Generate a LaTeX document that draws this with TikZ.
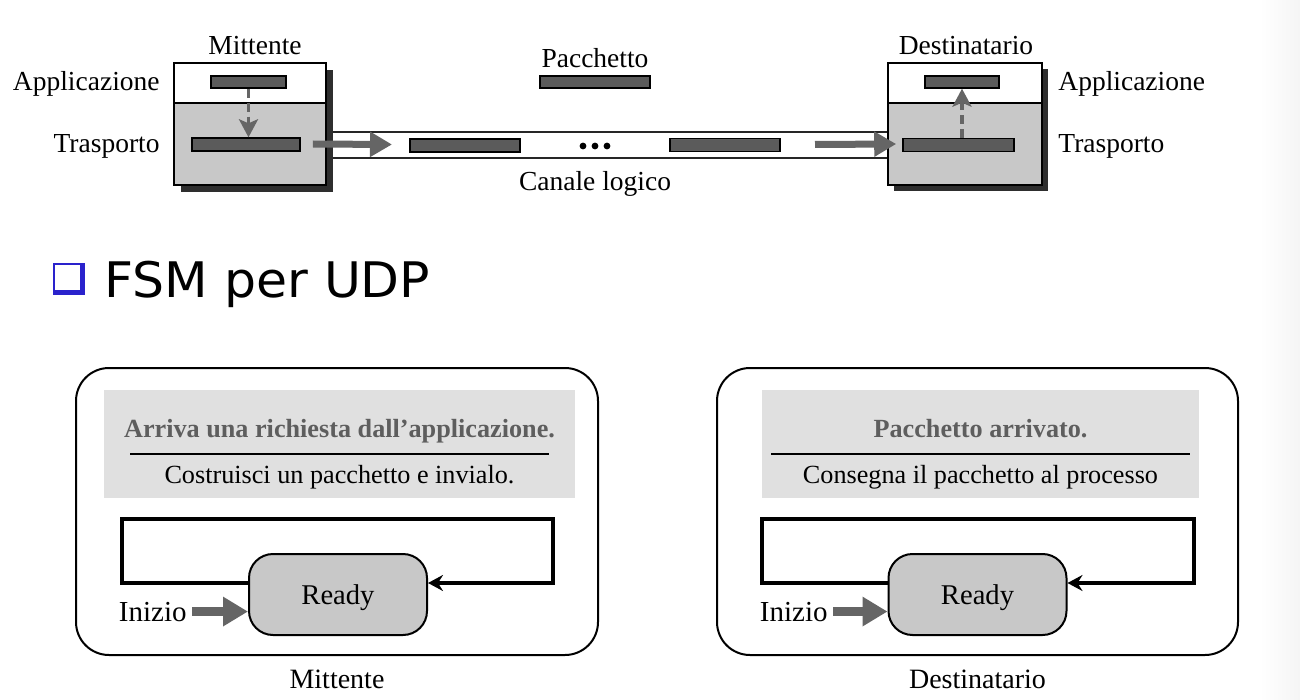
\documentclass[tikz,border=0pt]{standalone}
\usepackage{fontspec}
\setmainfont{Liberation Serif}
\newfontfamily\fsmfont[FakeStretch=1.03]{DejaVu Sans}
\usetikzlibrary{arrows.meta,calc}
\definecolor{pktgray}{HTML}{5B5B5B}
\definecolor{arrowgray}{HTML}{656565}
\definecolor{boxgray}{HTML}{C8C8C8}
\definecolor{shadowc}{HTML}{2E2E2E}
\definecolor{hdrgray}{HTML}{E0E0E0}
\definecolor{boldgray}{HTML}{5E5E5E}
\definecolor{sqblue}{HTML}{2A22CC}
\begin{document}
\begin{tikzpicture}[x=0.5pt,y=-0.5pt,
  layerbox/.style={draw=black, line width=0.8pt, inner sep=0, minimum width=76pt},
  pkt/.style={draw=black, line width=0.7pt, fill=pktgray, inner sep=0},
  chanline/.style={draw=black!85, line width=0.8pt},
  bigarrow/.style={draw=arrowgray, line width=3.5pt, -{Triangle[length=11pt,width=12pt]}},
  dasharrow/.style={draw=arrowgray, line width=1.6pt, dash pattern=on 4.5pt off 2.5pt, -{Stealth[length=9pt,width=9.5pt,inset=2pt]}},
  lbl/.style={inner sep=0, font=\fontsize{13.75pt}{16pt}\selectfont},
  dotnode/.style={circle, fill=black, inner sep=0, minimum size=3.4pt},
  fsmbox/.style={draw=black, line width=1pt, rounded corners=16.5pt, minimum height=143.5pt, inner sep=0},
  hdr/.style={fill=hdrgray, minimum height=54pt, inner sep=0},
  boldtxt/.style={inner sep=0, text=boldgray, font=\bfseries\fontsize{13.1pt}{15pt}\selectfont},
  normtxt/.style={inner sep=0, font=\fontsize{13.1pt}{15pt}\selectfont},
  ready/.style={draw=black, line width=1pt, fill=boxgray, rounded corners=12pt, minimum width=89pt, minimum height=40.5pt, inner sep=0, text depth=0pt, font=\fontsize{14.3pt}{16pt}\selectfont},
  initxt/.style={inner sep=0, font=\fontsize{14.5pt}{16pt}\selectfont},
  botlbl/.style={inner sep=0, font=\fontsize{14pt}{16pt}\selectfont},
  loopline/.style={draw=black, line width=2pt, line join=miter, -{Stealth[length=7.5pt,width=8pt,inset=2.5pt]}},
  iniarrow/.style={draw=arrowgray, line width=4.5pt, -{Triangle[length=12.5pt,width=14pt]}}
]
\useasboundingbox (0,0) rectangle (1300,700);
\fill[white] (0,0) rectangle (1300,700);
\shade[left color=white, right color=black!4] (1260,0) rectangle (1300,700);

% ---------- top: channel ----------
\fill[white] (333,132) rectangle (888,158);
\draw[chanline] (333,132) -- (888,132);
\draw[chanline] (333,158) -- (888,158);

% sender stack
\fill[shadowc] (181,70) rectangle (333,192);
\node[layerbox, fill=white, minimum height=20pt] (sapp) at (250,83) {};
\node[layerbox, fill=boxgray, minimum height=41pt] (stp) at (250,144) {};
% receiver stack
\fill[shadowc] (894,69) rectangle (1048,191);
\node[layerbox, fill=white, minimum width=77pt, minimum height=20pt] (dapp) at (965,83) {};
\node[layerbox, fill=boxgray, minimum width=77pt, minimum height=41pt] (dtp) at (965,144) {};

% packets
\node[pkt, minimum width=37.5pt, minimum height=6pt] (sappk) at (248.5,82) {};
\node[pkt, minimum width=54pt, minimum height=6.5pt] (stpk) at (246,144.5) {};
\node[pkt, minimum width=55pt, minimum height=6.5pt] (ch1) at (465,145.5) {};
\node[pkt, minimum width=55pt, minimum height=6.5pt] (ch2) at (725,145) {};
\node[pkt, minimum width=55pt, minimum height=6pt] (pk) at (595,82) {};
\node[pkt, minimum width=37pt, minimum height=6pt] (dappk) at (962,82) {};
\node[pkt, minimum width=55.5pt, minimum height=6.5pt] (dtpk) at (958.5,145) {};

\node[dotnode] (d1) at (583,146) {};
\node[dotnode] (d2) at (595,146) {};
\node[dotnode] (d3) at (607,146) {};

% arrows
\coordinate (c1) at (392,144.5);
\coordinate (c2) at (815,144.5);
\draw[bigarrow] ([xshift=-7pt]stp.east) -- (c1);
\draw[bigarrow] (c2) -- ([xshift=4.5pt]dtp.west);
\draw[dasharrow] (sappk.south) -- (stpk.north -| sappk.south);
\draw[dasharrow] (dtpk.north -| dappk.south) -- (dappk.south);

% labels
\node[lbl, anchor=base] (tMit) at (255,55) {Mittente};
\node[lbl, anchor=base east] (tApp) at (160,91) {Applicazione};
\node[lbl, anchor=base east] (tTra) at (160,153) {Trasporto};
\node[lbl, anchor=base] (tPac) at (595,68) {Pacchetto};
\node[lbl, anchor=base] (tCan) at (595,191) {Canale logico};
\node[lbl, anchor=base] (tDes) at (966,55) {Destinatario};
\node[lbl, anchor=base west] (tApp2) at (1058,91) {Applicazione};
\node[lbl, anchor=base west] (tTra2) at (1058,153) {Trasporto};

% ---------- title ----------
\fill[sqblue] (53,263) rectangle (85,295);
\fill[white] (55,265) rectangle (80,290);
\node[anchor=base west, inner sep=0, font=\fsmfont\fontsize{24.5pt}{28pt}\selectfont] (fsm) at (104,297) {FSM per UDP};

% ---------- left FSM ----------
\node[fsmbox, minimum width=261pt] (fsmL) at (337,511.5) {};
\node[hdr, minimum width=235.5pt] (hdrL) at (339.5,444) {};
\node[boldtxt, anchor=base] (evL) at (339.5,437) {Arriva una richiesta dall'applicazione.};
\draw[line width=0.75pt] (130,454) -- (549,454);
\node[normtxt, anchor=base] (acL) at (339.5,483) {Costruisci un pacchetto e invialo.};
\node[ready] (rdyL) at (338,594.5) {Ready};
\draw[loopline] ([yshift=5.75pt]rdyL.west) -| (122,519) -| (553,583) -- ([yshift=5.75pt]rdyL.east);
\node[initxt, anchor=base east] (iniL) at (187,621) {Inizio};
\draw[iniarrow] ([xshift=2.5pt]iniL.east) -- (rdyL.west |- iniL.east);
\node[botlbl, anchor=base] (mL) at (337,688) {Mittente};

% ---------- right FSM ----------
\node[fsmbox, minimum width=260.5pt] (fsmR) at (977.5,511.5) {};
\node[hdr, minimum width=218.5pt] (hdrR) at (980.5,444) {};
\node[boldtxt, anchor=base] (evR) at (980.5,437) {Pacchetto arrivato.};
\draw[line width=0.75pt] (771,454) -- (1190,454);
\node[normtxt, anchor=base] (acR) at (980.5,483) {Consegna il pacchetto al processo};
\node[ready] (rdyR) at (977.5,594.5) {Ready};
\draw[loopline] ([yshift=5.75pt]rdyR.west) -| (762,519) -| (1194,583) -- ([yshift=5.75pt]rdyR.east);
\node[initxt, anchor=base east] (iniR) at (828,621) {Inizio};
\draw[iniarrow] ([xshift=2.5pt]iniR.east) -- (rdyR.west |- iniR.east);
\node[botlbl, anchor=base] (mR) at (977.5,688) {Destinatario};
\end{tikzpicture}
\end{document}
